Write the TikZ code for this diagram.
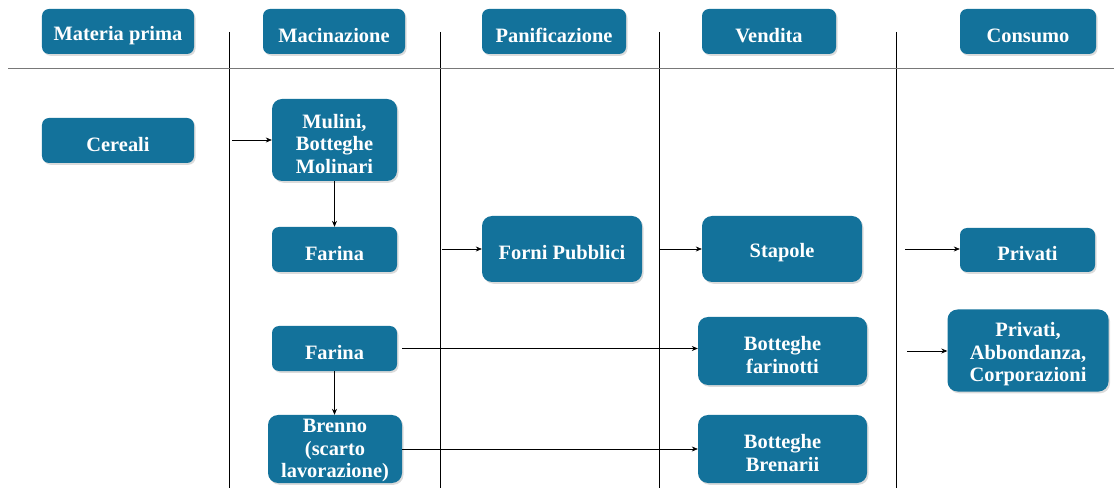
\documentclass[tikz,border=0pt]{standalone}
\usepackage{fontspec}
\setmainfont{Liberation Serif}
\usetikzlibrary{arrows.meta,shadows}
\definecolor{boxblue}{RGB}{19,114,155}
\definecolor{rulegray}{RGB}{120,120,120}
% struts that lower the text block inside a box
\newcommand{\lowerstrut}{\rule{0pt}{22bp}}
\newcommand{\tightstrut}{\rule{0pt}{17bp}}
\tikzset{
  box/.style={draw=none, fill=boxblue, rounded corners=7bp, text=white,
    font=\fontsize{20.5}{22.5}\selectfont\bfseries, align=center, inner sep=0pt,
    drop shadow={shadow xshift=1.5bp, shadow yshift=-1.8bp, opacity=0.35, fill=black!40}},
  arr/.style={-{Stealth[length=6bp,width=5bp]}, line width=0.6bp, black},
  lane/.style={line width=0.8bp, black},
}
\begin{document}
\begin{tikzpicture}[x=1bp,y=-1bp]
\useasboundingbox (0,0) rectangle (1114,488);
% lane separators
\draw[lane] (229,32) -- (229,488);
\draw[lane] (440,32) -- (440,488);
\draw[lane] (659,32) -- (659,488);
\draw[lane] (896,32) -- (896,488);
\draw[line width=1.8bp, rulegray] (8,68.5) -- (1114,68.5);
% column headers
\node[box, minimum width=152bp, minimum height=45bp] (hMat) at (118,31.5) {\lowerstrut Materia prima};
\node[box, minimum width=142bp, minimum height=45bp] (hMac) at (334,31.5) {\lowerstrut Macinazione};
\node[box, minimum width=144bp, minimum height=45bp] (hPan) at (554,31.5) {\lowerstrut Panificazione};
\node[box, minimum width=134bp, minimum height=45bp] (hVen) at (769,31.5) {\lowerstrut Vendita};
\node[box, minimum width=136bp, minimum height=45bp] (hCon) at (1028,31.5) {\lowerstrut Consumo};
% flow nodes
\node[box, minimum width=152bp, minimum height=45bp] (cereali) at (118,140.5) {\lowerstrut Cereali};
\node[box, minimum width=125bp, minimum height=82bp, rounded corners=10bp] (mulini) at (334.5,140) {\lowerstrut Mulini,\\Botteghe\\Molinari};
\node[box, minimum width=125bp, minimum height=45bp] (farinaA) at (334.5,249.5) {\lowerstrut Farina};
\node[box, minimum width=160bp, minimum height=66bp, rounded corners=10bp] (forni) at (562,249) {\lowerstrut Forni Pubblici};
\node[box, minimum width=160bp, minimum height=66bp, rounded corners=10bp] (stapole) at (782,249) {\lowerstrut Stapole};
\node[box, minimum width=135bp, minimum height=44bp] (privati) at (1027.5,250) {\lowerstrut Privati};
\node[box, minimum width=125bp, minimum height=45bp] (farinaB) at (334.5,348.5) {\lowerstrut Farina};
\node[box, minimum width=169bp, minimum height=68bp, rounded corners=10bp] (farinotti) at (782.5,351) {\lowerstrut Botteghe\\farinotti};
\node[box, minimum width=161bp, minimum height=82bp, rounded corners=10bp] (abbond) at (1028,350.5) {\lowerstrut Privati,\\Abbondanza,\\Corporazioni};
\node[box, minimum width=134bp, minimum height=68bp, rounded corners=10bp] (brenno) at (335,449) {\tightstrut Brenno\\(scarto\\lavorazione)};
\node[box, minimum width=169bp, minimum height=68bp, rounded corners=10bp] (brenarii) at (782.5,449) {\lowerstrut Botteghe\\Brenarii};
% arrow tails that start at the lane separators
\coordinate (inMul) at (232,140);
\coordinate (inForni) at (442,249);
\coordinate (inStap) at (660,249);
\coordinate (inPriv) at (905,249);
\coordinate (inAbb) at (907,351);
% connectors
\draw[arr] (inMul) -- (inMul -| mulini.west);
\draw[arr] (mulini.south) -- (farinaA.north);
\draw[arr] (inForni) -- (inForni -| forni.west);
\draw[arr] (inStap) -- (inStap -| stapole.west);
\draw[arr] (inPriv) -- (inPriv -| privati.west);
\draw[arr] ([xshift=5bp]farinaB.east) -- (farinaB.east -| farinotti.west);
\draw[arr] (farinaB.south) -- (farinaB.south |- brenno.north);
\draw[arr] (brenno.east) -- (brenno.east -| brenarii.west);
\draw[arr] (inAbb) -- (inAbb -| abbond.west);
\end{tikzpicture}
\end{document}
